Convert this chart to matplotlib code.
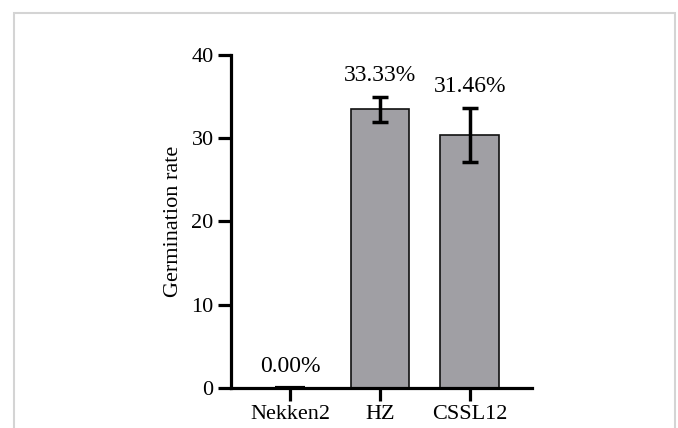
import matplotlib
matplotlib.use("Agg")
import matplotlib.pyplot as plt
from matplotlib.patches import Rectangle

# dati
lines = ["Nekken2", "HZ", "CSSL12"]
rate = [0.0, 33.5, 30.4]
err = [0.0, 1.5, 3.2]
labels = ["0.00%", "33.33%", "31.46%"]

plt.rcParams['font.family'] = ['Liberation Serif', 'DejaVu Serif']
plt.rcParams['font.size'] = 16

fig = plt.figure(figsize=(6.78, 4.28), dpi=100)
ax = fig.add_axes([231/678, 1-388/428, (532-231)/678, (388-55)/428])

# cornice grigia
fig.patches.append(Rectangle((14/678, -0.1), (675-14)/678, 1.1-13/428,
    transform=fig.transFigure, fill=False, edgecolor='#d4d4d4', linewidth=1.5))

x = list(range(len(lines)))
ax.bar(x, rate, width=0.655, color='#a09fa4', edgecolor='#111111', linewidth=1.2, zorder=2)
ax.errorbar(x[1:], rate[1:], yerr=err[1:], fmt='none', ecolor='black',
    elinewidth=2.5, capsize=5.5, capthick=2.5, zorder=3)
# lineetta della barra a zero
ax.errorbar(x[:1], [0.15], yerr=[0], fmt='none', ecolor='black',
    elinewidth=1.5, capsize=11, capthick=1.5, zorder=3)

for xi, r, e, t in zip(x, rate, err, labels):
    ax.annotate(t, (xi, r + e), xytext=(0, 8), textcoords='offset points',
        ha='center', va='bottom', fontsize=17)

ax.set_xlim(-0.656, 2.69)
ax.set_ylim(0, 40)
ax.set_yticks([0, 10, 20, 30, 40])
ax.set_xticks(x)
ax.set_xticklabels(lines)
ax.set_ylabel("Germination rate", fontsize=16, labelpad=6)

for s in ('top', 'right'):
    ax.spines[s].set_visible(False)
for s in ('left', 'bottom'):
    ax.spines[s].set_linewidth(2.3)
ax.tick_params(width=2.3, length=9.5, labelsize=16, pad=3)

fig.savefig("out.png", dpi=100)
